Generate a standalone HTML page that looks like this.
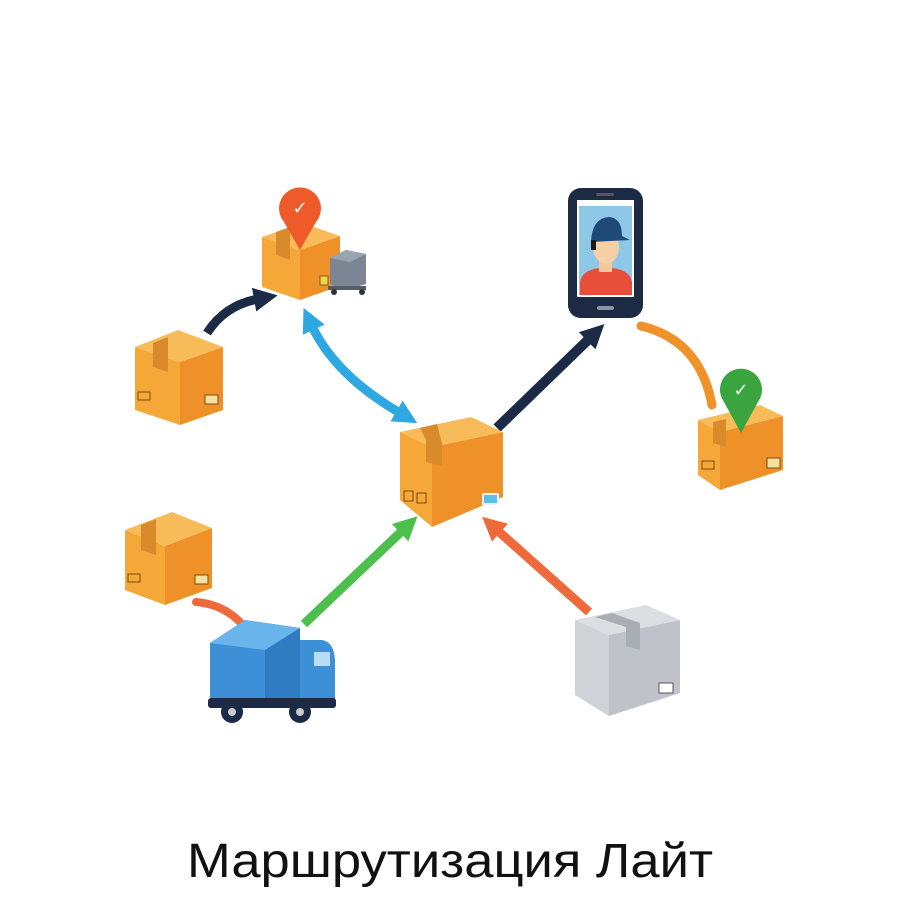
<!DOCTYPE html>
<html><head><meta charset="utf-8"><style>html,body{margin:0;padding:0;background:#fff}svg{display:block}</style></head>
<body>
<svg width="900" height="900" viewBox="0 0 900 900" xmlns="http://www.w3.org/2000/svg">
<defs>
<marker id="mN" markerUnits="userSpaceOnUse" markerWidth="30" markerHeight="30" refX="4" refY="12" orient="auto"><path d="M0,0 L24,12 L0,24 Z" fill="#1b2b45"/></marker>
<marker id="mB" markerUnits="userSpaceOnUse" markerWidth="30" markerHeight="30" refX="4" refY="12" orient="auto"><path d="M0,0 L24,12 L0,24 Z" fill="#2ea8e0"/></marker>
<marker id="mBs" markerUnits="userSpaceOnUse" markerWidth="30" markerHeight="30" refX="20" refY="12" orient="auto"><path d="M24,0 L0,12 L24,24 Z" fill="#2ea8e0"/></marker>
<marker id="mG" markerUnits="userSpaceOnUse" markerWidth="30" markerHeight="30" refX="4" refY="12" orient="auto"><path d="M0,0 L24,12 L0,24 Z" fill="#4cbf4c"/></marker>
<marker id="mR" markerUnits="userSpaceOnUse" markerWidth="30" markerHeight="30" refX="4" refY="12" orient="auto"><path d="M0,0 L24,12 L0,24 Z" fill="#ef6a3a"/></marker>
</defs>

<!-- arrows -->
<path d="M207,333 Q225,305 258,299" fill="none" stroke="#1b2b45" stroke-width="9" marker-end="url(#mN)"/>
<path d="M312,326 Q335,375 400,413" fill="none" stroke="#2ea8e0" stroke-width="9" marker-end="url(#mB)" marker-start="url(#mBs)"/>
<path d="M497,428 L590,338" fill="none" stroke="#1b2b45" stroke-width="10" marker-end="url(#mN)"/>
<path d="M641,326 Q700,340 712,405" fill="none" stroke="#f0922a" stroke-width="9" stroke-linecap="round"/>
<path d="M304,624 L403,530" fill="none" stroke="#4cbf4c" stroke-width="9" marker-end="url(#mG)"/>
<path d="M589,612 L497,530" fill="none" stroke="#ef6a3a" stroke-width="9" marker-end="url(#mR)"/>
<path d="M196,602 Q222,604 240,622" fill="none" stroke="#ef6a3a" stroke-width="8" stroke-linecap="round"/>

<!-- Top-left box -->
<g>
<polygon points="262,237 300,250 300,300 262,287" fill="#f5a838"/>
<polygon points="300,250 340,236 340,286 300,300" fill="#ee9128"/>
<polygon points="262,237 302,223 340,236 300,250" fill="#f8bb5a"/>
<polygon points="276,232 290,227 290,260 276,255" fill="#d98a2a"/>
<rect x="320" y="276" width="8" height="9" fill="#f3d54a" stroke="#8a5a10"/>
</g>
<!-- cart -->
<g>
<polygon points="330,258 346,250 366,254 366,284 346,290 330,284" fill="#7b8594"/>
<polygon points="330,258 346,250 366,254 350,262" fill="#9aa3b0"/>
<rect x="328" y="286" width="38" height="4" fill="#555c66"/>
<circle cx="334" cy="292" r="3" fill="#333"/><circle cx="362" cy="292" r="3" fill="#333"/>
</g>
<!-- orange pin -->
<g>
<path d="M300,250 L284,222 A21,21 0 1 1 316,222 Z" fill="#ef5a2a"/>
<text x="300" y="214" font-family="DejaVu Sans, sans-serif" font-size="18" fill="#fff" text-anchor="middle">✓</text>
</g>

<!-- Left box -->
<g>
<polygon points="135,347 180,362 180,425 135,410" fill="#f5a838"/>
<polygon points="180,362 223,347 223,410 180,425" fill="#ee9128"/>
<polygon points="135,347 178,330 223,347 180,362" fill="#f8bb5a"/>
<polygon points="153,343 168,337 168,372 153,367" fill="#d98a2a"/>
<rect x="138" y="392" width="12" height="8" fill="none" stroke="#7a4a10"/>
<rect x="205" y="395" width="13" height="9" fill="#f6e0a0" stroke="#7a4a10"/>
</g>

<!-- Lower-left box -->
<g>
<polygon points="125,530 165,546 165,605 125,590" fill="#f5a838"/>
<polygon points="165,546 212,528 212,588 165,605" fill="#ee9128"/>
<polygon points="125,530 172,512 212,528 165,546" fill="#f8bb5a"/>
<polygon points="141,525 156,519 156,555 141,550" fill="#d98a2a"/>
<rect x="128" y="574" width="12" height="8" fill="none" stroke="#7a4a10"/>
<rect x="195" y="575" width="13" height="9" fill="#f6e0a0" stroke="#7a4a10"/>
</g>

<!-- Center box -->
<g>
<polygon points="400,432 432,447 432,527 400,500" fill="#f5a838"/>
<polygon points="432,447 503,432 503,497 432,527" fill="#ee9128"/>
<polygon points="400,432 471,417 503,432 432,447" fill="#f8bb5a"/>
<polygon points="420,428 437,424 442,444 442,466 426,462 426,440" fill="#d98a2a"/>
<rect x="404" y="491" width="9" height="10" fill="none" stroke="#7a4a10"/>
<rect x="417" y="493" width="9" height="10" fill="none" stroke="#7a4a10"/>
<rect x="483" y="494" width="15" height="10" fill="#5bc0e8" stroke="#eef" stroke-width="2"/>
</g>

<!-- Phone -->
<g>
<rect x="568" y="188" width="75" height="130" rx="13" fill="#1c2a44"/>
<rect x="577" y="200" width="57" height="97" fill="#fff"/>
<rect x="579" y="206" width="53" height="89" fill="#8fc8e6"/>
<rect x="596" y="193" width="18" height="3" rx="1.5" fill="#556"/>
<rect x="597" y="306" width="17" height="4" rx="2" fill="#8894a8"/>
<path d="M580,295 L580,282 Q582,270 600,268 L612,268 Q630,270 632,282 L632,295 Z" fill="#e94e3a"/>
<rect x="599" y="258" width="13" height="14" fill="#f2c79a"/>
<ellipse cx="606" cy="247" rx="13" ry="17" fill="#f6cfa6"/>
<path d="M591,242 Q592,218 609,217 Q622,218 622,236 L630,240 L591,242 Z" fill="#1f4a78"/>
<rect x="591" y="240" width="5" height="10" fill="#1a1a1a"/>
</g>

<!-- Right box with green pin -->
<g>
<polygon points="698,420 720,432 720,490 698,475" fill="#f5a838"/>
<polygon points="720,432 783,416 783,470 720,490" fill="#ee9128"/>
<polygon points="698,420 760,405 783,416 720,432" fill="#f8bb5a"/>
<polygon points="713,422 726,419 726,447 713,443" fill="#d98a2a"/>
<rect x="702" y="461" width="12" height="8" fill="none" stroke="#7a4a10"/>
<rect x="767" y="458" width="13" height="10" fill="#f6e0a0" stroke="#7a4a10"/>
<path d="M741,433 L724,402 A21,21 0 1 1 758,402 Z" fill="#3aa53e"/>
<text x="741" y="396" font-family="DejaVu Sans, sans-serif" font-size="18" fill="#fff" text-anchor="middle">✓</text>
</g>

<!-- Gray box -->
<g>
<polygon points="575,620 609,635 609,716 575,695" fill="#cfd2d7"/>
<polygon points="609,635 680,620 680,693 609,716" fill="#bfc2c8"/>
<polygon points="575,620 646,605 680,620 609,635" fill="#dcdee2"/>
<polygon points="595,617 612,613 640,623 640,650 626,646 626,627" fill="#a9adb4"/>
<rect x="659" y="683" width="14" height="10" fill="#fff" stroke="#555"/>
</g>

<!-- Truck -->
<g>
<polygon points="210,643 245,620 300,628 300,700 210,700" fill="#3d8fd6"/>
<polygon points="210,643 245,620 300,628 265,650" fill="#6ab4ec"/>
<polygon points="265,650 300,628 300,700 265,700" fill="#2f7cc2"/>
<path d="M300,640 L322,640 Q334,642 335,660 L335,700 L300,700 Z" fill="#3d8fd6"/>
<rect x="314" y="652" width="16" height="14" fill="#b8def6"/>
<rect x="208" y="698" width="128" height="10" rx="3" fill="#1b2b45"/>
<circle cx="232" cy="712" r="11" fill="#1b2b45"/><circle cx="232" cy="712" r="4" fill="#ccc"/>
<circle cx="300" cy="712" r="11" fill="#1b2b45"/><circle cx="300" cy="712" r="4" fill="#ccc"/>
</g>

<text x="450" y="877" font-family="Liberation Sans, sans-serif" font-size="48" fill="#111" text-anchor="middle" textLength="526" lengthAdjust="spacingAndGlyphs">Маршрутизация Лайт</text>
</svg>
</body></html>
